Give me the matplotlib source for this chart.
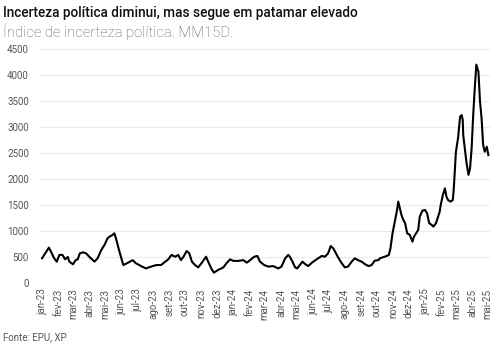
import matplotlib
matplotlib.use("Agg")
import matplotlib.pyplot as plt
import pandas as pd
import numpy as np

# days since 2023-01-01 and index values
days = [0, 4, 13, 17, 23, 28, 33, 39, 44, 49, 52, 59, 64, 68, 72, 78, 84, 90, 100, 106,
        113, 119, 125, 130, 134, 138, 141, 146, 153, 155, 164, 173, 179, 189, 198, 208,
        218, 227, 235, 241, 247, 254, 260, 265, 270, 276, 281, 286, 292, 298, 305, 313,
        317, 324, 328, 336, 346, 352, 359, 365, 375, 384, 391, 397, 405, 411, 416, 424,
        432, 441, 451, 457, 464, 470, 473, 478, 483, 487, 492, 497, 502, 508, 515, 524,
        534, 540, 546, 551, 556, 561, 565, 572, 578, 584, 591, 597, 603, 610, 616, 623,
        629, 635, 642, 645, 651, 658, 662, 665, 669, 674, 677, 680, 683, 686, 689, 693,
        697, 702, 707, 710, 714, 718, 721, 726, 731, 735, 739, 744, 747, 752, 756, 759,
        761, 765, 769, 772, 775, 780, 784, 786, 790, 794, 798, 801, 803, 804, 807, 810,
        814, 817, 820, 823, 826, 829, 833, 836, 839, 842, 845, 849, 852]
values = [475, 540, 680, 600, 475, 410, 540, 540, 455, 500, 410, 360, 440, 455, 570, 590, 570, 505, 410, 475,
          635, 730, 860, 900, 920, 955, 860, 665, 410, 345, 390, 440, 380, 325, 280, 315,
          345, 345, 410, 455, 540, 505, 540, 440, 505, 615, 570, 410, 345, 300, 390, 505,
          410, 260, 200, 250, 300, 380, 455, 425, 425, 440, 390, 440, 505, 520, 410, 345,
          315, 325, 280, 315, 475, 540, 505, 410, 300, 280, 345, 410, 365, 325, 390, 455,
          520, 505, 570, 710, 665, 570, 495, 380, 300, 315, 410, 475, 440, 410, 365, 325,
          345, 430, 440, 475, 495, 520, 540, 665, 955, 1210, 1370, 1565, 1435, 1310, 1225, 1150,
          955, 925, 795, 890, 955, 1020, 1275, 1390, 1405, 1340, 1150, 1115, 1085, 1150, 1275, 1370,
          1500, 1690, 1820, 1660, 1595, 1565, 1595, 1820, 2525, 2780, 3200, 3230, 3135, 2845, 2590, 2330,
          2080, 2205, 2590, 3230, 3745, 4200, 4065, 3490, 3170, 2655, 2525, 2620, 2460]

month_labels = ["jan-23", "fev-23", "mar-23", "abr-23", "mai-23", "jun-23", "jul-23", "ago-23",
                "set-23", "out-23", "nov-23", "dez-23", "jan-24", "fev-24", "mar-24", "abr-24",
                "mai-24", "jun-24", "jul-24", "ago-24", "set-24", "out-24", "nov-24", "dez-24",
                "jan-25", "fev-25", "mar-25", "abr-25", "mai-25"]
y_ticks = [0, 500, 1000, 1500, 2000, 2500, 3000, 3500, 4000, 4500]

title = "Incerteza política diminui, mas segue em patamar elevado"
subtitle = "Índice de incerteza política. MM15D."
source = "Fonte: EPU, XP"

start = pd.Timestamp("2023-01-01")
dates = start + pd.to_timedelta(days, unit="D")
tick_dates = pd.date_range("2023-01-01", periods=len(month_labels), freq="MS")

plt.rcParams['font.family'] = ['Roboto', 'DejaVu Sans']

fig = plt.figure(figsize=(5.02, 3.54), dpi=100)
ax = fig.add_axes([0.0797, 0.2006, 0.8963, 0.661])
ax.plot(dates, values, color="black", lw=1.5, solid_joinstyle="round")

ax.set_ylim(0, 4500)
ax.set_yticks(y_ticks)
ax.set_yticklabels([str(v) for v in y_ticks])
ax.set_xlim(start - pd.Timedelta(days=4), start + pd.Timedelta(days=855))
ax.set_xticks(tick_dates)
ax.set_xticklabels(month_labels, rotation=90)

ax.grid(axis="y", color="#ebebeb", lw=0.8)
ax.set_axisbelow(True)
for s in ax.spines.values():
    s.set_visible(False)
ax.tick_params(axis="both", length=0, labelsize=7, colors="#555555")
ax.tick_params(axis="y", pad=8)
ax.tick_params(axis="x", pad=4)

fig.text(0.006, 0.962, title, fontsize=9.8, fontweight="medium", color="#111111", va="center")
fig.text(0.006, 0.910, subtitle, fontsize=10.7, fontweight="light", color="#5a5a5a", va="center")
fig.text(0.006, 0.048, source, fontsize=7, color="#555555", va="center")

fig.savefig("out.png", dpi=100)
